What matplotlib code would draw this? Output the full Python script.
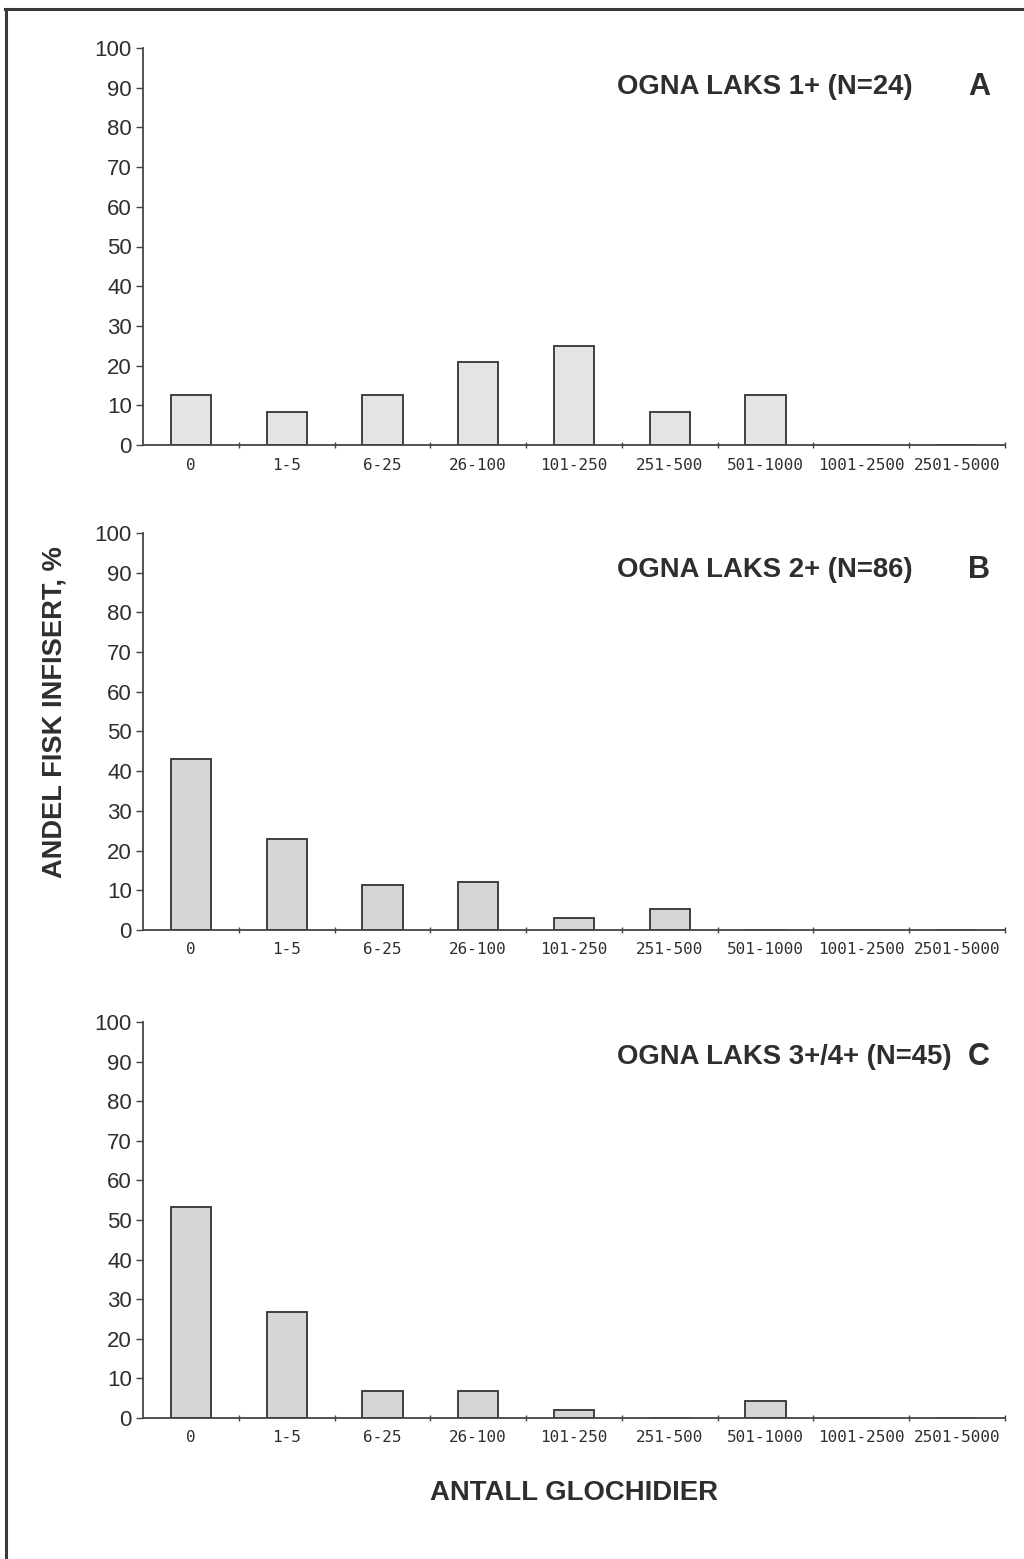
import matplotlib.pyplot as plt
import numpy as np

# antall glochidier per fisk (klasser)
klasser = ['0', '1-5', '6-25', '26-100', '101-250', '251-500',
           '501-1000', '1001-2500', '2501-5000']

# andel fisk infisert (%) for hver aldersgruppe
laks_1 = [12.5, 8.3, 12.5, 20.8, 25.0, 8.3, 12.5, 0, 0]
laks_2 = [43.0, 23.0, 11.4, 12.1, 2.9, 5.4, 0, 0, 0]
laks_3_4 = [53.3, 26.7, 6.7, 6.7, 2.0, 0, 4.4, 0, 0]

titler = ['OGNA LAKS 1+ (N=24)', 'OGNA LAKS 2+ (N=86)', 'OGNA LAKS 3+/4+ (N=45)']
bokstaver = ['A', 'B', 'C']
serier = [laks_1, laks_2, laks_3_4]

W, H = 1024, 1559
fig = plt.figure(figsize=(W / 100, H / 100), dpi=100)
fig.patch.set_facecolor('white')

txt = '#2e2e2e'
fonts = ['Liberation Sans', 'DejaVu Sans']

# ramme rundt figuren (topp og venstre)
fig.add_artist(plt.Line2D([5 / W, 1.0], [1 - 9 / H, 1 - 9 / H], color='#3a3a3a', lw=2.2))
fig.add_artist(plt.Line2D([6 / W, 6 / W], [0, 1 - 9 / H], color='#3a3a3a', lw=2.2))

# piksel-grenser for hvert panel (bunn, topp)
paneler = [(445, 48), (930, 533), (1418, 1022)]
venstre, hoyre = 143, 1005
tittel_y = [87, 570, 1057]
bar_farger = ['#e4e4e4', '#d6d6d6', '#d6d6d6']

x = np.arange(len(klasser))
for i, (bunn, topp) in enumerate(paneler):
    ax = fig.add_axes([venstre / W, 1 - bunn / H, (hoyre - venstre) / W, (bunn - topp) / H])
    ax.bar(x, serier[i], width=0.42, color=bar_farger[i], edgecolor='#333333', linewidth=1.3)
    ax.set_xlim(-0.5, len(klasser) - 0.5)
    ax.set_ylim(0, 100)
    for s in ['top', 'right']:
        ax.spines[s].set_visible(False)
    for s in ['left', 'bottom']:
        ax.spines[s].set_color('#444444')
        ax.spines[s].set_linewidth(1.3)
    ax.set_facecolor('none')

    ax.set_yticks(np.arange(0, 101, 10))
    ax.tick_params(axis='y', direction='out', length=5, width=1, color='#444444',
                   labelsize=16, labelcolor=txt, pad=3)
    for lbl in ax.get_yticklabels():
        lbl.set_family(fonts)

    ax.set_xticks(x)
    ax.set_xticklabels(klasser, family=['DejaVu Sans Mono'], fontsize=11.5, color=txt)
    ax.tick_params(axis='x', which='major', length=0, pad=9)
    ax.set_xticks(np.arange(0.5, len(klasser) - 0.5 + 1e-9, 1.0), minor=True)
    ax.tick_params(axis='x', which='minor', direction='inout', length=5, width=1, color='#444444')

    fig.text(617 / W, 1 - tittel_y[i] / H, titler[i], ha='left', va='center',
             fontsize=19.8, fontweight='bold', color=txt, family=fonts)
    fig.text(979 / W, 1 - tittel_y[i] / H, bokstaver[i], ha='center', va='center',
             fontsize=22, fontweight='bold', color=txt, family=fonts)

fig.text(55 / W, 1 - 712 / H, 'ANDEL FISK INFISERT, %', rotation=90, ha='center', va='center',
         fontsize=19.6, fontweight='bold', color=txt, family=fonts)
fig.text(574 / W, 1 - 1493 / H, 'ANTALL GLOCHIDIER', ha='center', va='center',
         fontsize=19.8, fontweight='bold', color=txt, family=fonts)

fig.savefig('out.png', dpi=100, facecolor='white')
